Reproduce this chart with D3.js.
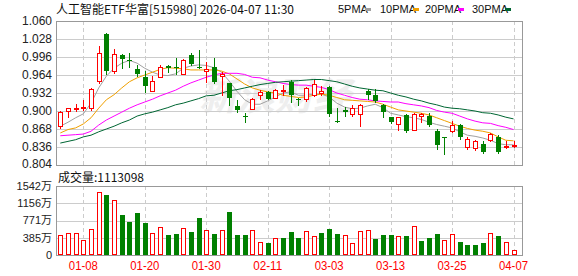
<!DOCTYPE html>
<html>
<head>
<meta charset="utf-8">
<script src="https://d3js.org/d3.v7.min.js"></script>
<style>
  body { margin: 0; padding: 0; background: #fff; }
  svg text { font-family: 'Liberation Sans', Arial, 'Noto Sans CJK SC', sans-serif; }
  .cjk { font-family: 'Noto Sans CJK SC', sans-serif; }
</style>
</head>
<body>
<div id="chart"></div>
<script>
// daily candles, 2026-01-05 .. 2026-04-07
var opens  = [0.874,0.900,0.904,0.906,0.906,0.953,1.037,0.972,1.000,0.991,
              0.975,0.961,0.935,0.960,0.980,0.979,0.966,0.999,0.979,0.971,
              0.979,0.963,0.949,0.909,0.891,0.904,0.928,0.933,0.924,0.935,
              0.952,0.922,0.922,0.929,0.932,0.943,0.882,0.901,0.894,0.894,
              0.935,0.928,0.911,0.889,0.877,0.893,0.867,0.892,0.892,0.865,
              0.853,0.864,0.876,0.836,0.834,0.842,0.848,0.854,0.837,0.838];
var highs  = [0.900,0.905,0.912,0.920,0.941,1.015,1.039,1.010,1.001,1.003,
              0.982,0.972,0.963,0.982,0.982,0.995,0.993,1.004,1.008,0.988,
              0.995,0.970,0.950,0.919,0.897,0.923,0.937,0.935,0.940,0.946,
              0.955,0.924,0.943,0.955,0.944,0.944,0.905,0.908,0.911,0.913,
              0.940,0.939,0.913,0.890,0.890,0.895,0.896,0.896,0.896,0.868,
              0.853,0.883,0.877,0.853,0.849,0.847,0.861,0.857,0.846,0.846];
var lows   = [0.870,0.889,0.900,0.902,0.902,0.949,0.965,0.967,0.976,0.979,
              0.963,0.934,0.935,0.960,0.969,0.966,0.966,0.982,0.976,0.951,
              0.950,0.929,0.910,0.898,0.880,0.903,0.922,0.921,0.923,0.928,
              0.916,0.911,0.917,0.927,0.928,0.892,0.880,0.892,0.891,0.873,
              0.922,0.916,0.889,0.879,0.867,0.863,0.866,0.880,0.874,0.833,
              0.824,0.863,0.851,0.833,0.831,0.826,0.846,0.825,0.835,0.836];
var closes = [0.899,0.905,0.906,0.907,0.940,1.004,0.972,1.001,0.993,0.989,
              0.966,0.944,0.954,0.979,0.977,0.976,0.990,0.984,0.976,0.975,
              0.952,0.965,0.923,0.901,0.889,0.922,0.933,0.922,0.938,0.937,
              0.928,0.920,0.941,0.948,0.935,0.894,0.881,0.899,0.905,0.911,
              0.929,0.917,0.898,0.880,0.889,0.864,0.895,0.894,0.876,0.840,
              0.852,0.876,0.854,0.851,0.846,0.828,0.860,0.828,0.838,0.839];

// moving averages as drawn
var ma5  = [0.873,0.880,0.888,0.895,0.914,0.941,0.962,0.976,0.985,0.990,
            0.985,0.976,0.969,0.964,0.963,0.966,0.976,0.980,0.982,0.981,
            0.977,0.969,0.953,0.935,0.920,0.912,0.912,0.918,0.925,0.932,
            0.934,0.928,0.928,0.930,0.930,0.925,0.914,0.907,0.904,0.905,
            0.909,0.912,0.906,0.896,0.893,0.890,0.888,0.885,0.880,0.876,
            0.873,0.870,0.863,0.857,0.855,0.852,0.848,0.842,0.840,0.840];
var ma10 = [0.861,0.867,0.870,0.877,0.888,0.905,0.920,0.929,0.941,0.952,
            0.959,0.964,0.969,0.974,0.977,0.976,0.975,0.973,0.973,0.973,
            0.973,0.971,0.966,0.957,0.948,0.941,0.937,0.934,0.932,0.928,
            0.926,0.924,0.925,0.928,0.930,0.928,0.924,0.920,0.919,0.918,
            0.917,0.916,0.912,0.907,0.902,0.900,0.898,0.896,0.893,0.888,
            0.883,0.878,0.873,0.869,0.866,0.864,0.861,0.854,0.848,0.847];
var ma20 = [0.856,0.857,0.858,0.859,0.864,0.875,0.884,0.891,0.898,0.905,
            0.911,0.916,0.921,0.927,0.932,0.937,0.944,0.950,0.955,0.960,
            0.964,0.967,0.967,0.967,0.965,0.960,0.959,0.955,0.952,0.949,
            0.947,0.946,0.946,0.944,0.942,0.938,0.932,0.928,0.924,0.921,
            0.920,0.918,0.917,0.916,0.916,0.913,0.911,0.909,0.906,0.901,
            0.898,0.896,0.891,0.886,0.882,0.879,0.878,0.874,0.871,0.867];
var ma30 = [0.843,0.846,0.849,0.854,0.857,0.863,0.868,0.873,0.879,0.884,
            0.891,0.895,0.898,0.902,0.906,0.911,0.914,0.918,0.922,0.927,
            0.928,0.932,0.936,0.938,0.941,0.944,0.947,0.949,0.951,0.952,
            0.953,0.954,0.955,0.956,0.956,0.954,0.952,0.948,0.944,0.941,
            0.939,0.937,0.936,0.932,0.928,0.925,0.921,0.918,0.914,0.911,
            0.907,0.905,0.904,0.902,0.900,0.897,0.896,0.893,0.889,0.886];

// volume in 万, colour by change vs previous close
var volumes = [437,482,482,326,571,1415,1334,1237,889,734,
               934,711,482,615,445,467,593,511,822,548,
               467,548,956,445,445,548,289,267,371,378,
               511,378,526,415,489,578,467,437,267,526,
               548,356,445,445,415,422,659,311,378,467,
               326,467,289,215,215,267,482,422,289,111];
var volUp = "RRRRRRGRGGGGRRGGRGGRGRGGGRRGRGGGRRGGGRRRRGGGRGRGGGRRGGGGRGRR".split("");

var priceTicks = [1.060,1.028,0.996,0.964,0.932,0.900,0.868,0.836,0.804];
var volTicks = [0,385,771,1156,1542];
var dateLabels = ["01-08","01-20","01-30","02-11","03-03","03-13","03-25","04-07"];
var dateIdx = [3,11,19,27,35,43,51,59];

var maNames = ["5PMA","10PMA","20PMA","30PMA"];
var maColors = ["#a0a0a0","#f0a000","#ff00ff","#006633"];

var W = 578, H = 276;
var L = 56, R = 522;
var svg = d3.select("#chart").append("svg").attr("width", W).attr("height", H);

var x = d3.scaleLinear().domain([0, 59]).range([60.3, 513.5]);
var y = d3.scaleLinear().domain([0.804, 1.060]).range([165, 21]);
var yv = d3.scaleLinear().domain([0, 1542]).range([255, 186]);

var red = "#ff0000", green = "#008000";

// watermark
svg.append("text").attr("class", "cjk")
  .attr("x", 275).attr("y", 110).attr("text-anchor", "middle")
  .style("font-size", "38px").style("font-weight", "bold").style("font-style", "italic")
  .attr("fill", "#eeeeee").text("新浪财经");

// gridlines
var grid = svg.append("g").attr("shape-rendering", "crispEdges");
grid.selectAll(".hp").data(priceTicks.slice(1, -1)).enter().append("line")
  .attr("x1", L).attr("x2", R)
  .attr("y1", function(d){ return Math.round(y(d)) + 0.5; })
  .attr("y2", function(d){ return Math.round(y(d)) + 0.5; })
  .attr("stroke", "#cccccc");
grid.selectAll(".hv").data(volTicks.slice(1, -1)).enter().append("line")
  .attr("x1", L).attr("x2", R)
  .attr("y1", function(d){ return Math.round(yv(d)) + 0.5; })
  .attr("y2", function(d){ return Math.round(yv(d)) + 0.5; })
  .attr("stroke", "#cccccc");
[[21, 165], [186, 255]].forEach(function(r){
  grid.selectAll(null).data(dateIdx).enter().append("line")
    .attr("x1", function(d){ return Math.round(x(d)) + 0.5; })
    .attr("x2", function(d){ return Math.round(x(d)) + 0.5; })
    .attr("y1", r[0]).attr("y2", r[1])
    .attr("stroke", "#cccccc").attr("stroke-dasharray", "4,3");
});

// moving averages
var mas = [ma5, ma10, ma20, ma30];
var line = d3.line().x(function(d, i){ return x(i); }).y(function(d){ return y(d); });
mas.forEach(function(m, k){
  svg.append("path").datum(m).attr("d", line)
    .attr("fill", "none").attr("stroke", maColors[k]).attr("stroke-width", 1);
});

// candles
var idx = d3.range(opens.length);
var cg = svg.append("g").attr("shape-rendering", "crispEdges");
var candle = cg.selectAll(".c").data(idx).enter().append("g");
candle.append("line")
  .attr("x1", function(i){ return Math.round(x(i)) + 0.5; })
  .attr("x2", function(i){ return Math.round(x(i)) + 0.5; })
  .attr("y1", function(i){ return Math.round(y(highs[i])); })
  .attr("y2", function(i){ return Math.round(y(lows[i])) + 1; })
  .attr("stroke", function(i){ return closes[i] >= opens[i] ? red : green; });
candle.append("rect")
  .attr("x", function(i){ var c = Math.round(x(i)); return closes[i] >= opens[i] ? c - 1.5 : c - 2; })
  .attr("y", function(i){
    var t = Math.round(y(Math.max(opens[i], closes[i])));
    return closes[i] >= opens[i] ? t + 0.5 : t;
  })
  .attr("width", function(i){ return closes[i] >= opens[i] ? 4 : 5; })
  .attr("height", function(i){
    var t = Math.round(y(Math.max(opens[i], closes[i])));
    var b = Math.round(y(Math.min(opens[i], closes[i])));
    return Math.max(1, b - t);
  })
  .attr("fill", function(i){ return closes[i] >= opens[i] ? "#ffffff" : green; })
  .attr("stroke", function(i){ return closes[i] >= opens[i] ? red : "none"; });

// volume bars
var vg = svg.append("g").attr("shape-rendering", "crispEdges");
vg.selectAll(".v").data(idx).enter().append("rect")
  .attr("x", function(i){ var c = Math.round(x(i)); return volUp[i] === "R" ? c - 1.5 : c - 2; })
  .attr("y", function(i){ return Math.round(yv(volumes[i])) + (volUp[i] === "R" ? 0.5 : 0); })
  .attr("width", function(i){ return volUp[i] === "R" ? 4 : 5; })
  .attr("height", function(i){ return Math.round(yv(0)) - Math.round(yv(volumes[i])) - (volUp[i] === "R" ? 1 : 0); })
  .attr("fill", function(i){ return volUp[i] === "R" ? "#ffffff" : green; })
  .attr("stroke", function(i){ return volUp[i] === "R" ? red : "none"; });

// frames
[[21, 165], [186, 255]].forEach(function(r){
  svg.append("rect").attr("x", L + 0.5).attr("y", r[0] + 0.5)
    .attr("width", R - L).attr("height", r[1] - r[0])
    .attr("fill", "none").attr("stroke", "#999999").attr("shape-rendering", "crispEdges");
});

// price axis labels
svg.selectAll(".pl").data(priceTicks).enter().append("text")
  .attr("x", 52).attr("y", function(d, i){ return i === priceTicks.length - 1 ? y(d) - 1 : y(d); })
  .attr("dy", "0.35em").attr("text-anchor", "end")
  .style("font-size", "12px").attr("fill", "#222")
  .text(function(d){ return d3.format(".3f")(d); });

// volume axis labels
svg.selectAll(".vl").data(volTicks).enter().append("text")
  .attr("x", 52).attr("y", function(d){ return d === 0 ? yv(d) : yv(d); })
  .attr("dy", "0.35em").attr("text-anchor", "end")
  .style("font-size", "11px").attr("fill", "#222")
  .text(function(d){ return d === 0 ? "0" : d + "万"; });

// date labels
svg.selectAll(".dl").data(dateIdx).enter().append("text")
  .attr("x", function(d){ return x(d); }).attr("y", 270)
  .attr("text-anchor", "middle").style("font-size", "12px")
  .attr("fill", red).attr("textLength", 29).attr("lengthAdjust", "spacingAndGlyphs")
  .text(function(d, i){ return dateLabels[i]; });

// title
svg.append("text").attr("class", "cjk").attr("x", 56).attr("y", 14)
  .style("font-size", "12px").attr("fill", "#111")
  .attr("textLength", 238).attr("lengthAdjust", "spacingAndGlyphs")
  .text("人工智能ETF华富[515980] 2026-04-07 11:30");

// legend
var legX = [338, 380, 425, 472];
var leg = svg.selectAll(".lg").data(maNames).enter().append("g");
leg.append("text").attr("x", function(d, i){ return legX[i]; }).attr("y", 13)
  .style("font-size", "11px").attr("fill", "#111")
  .text(function(d){ return d; });
leg.append("rect")
  .attr("x", function(d, i){ return legX[i] + (i === 0 ? 27 : 33); }).attr("y", 8)
  .attr("width", 6).attr("height", 3)
  .attr("fill", function(d, i){ return maColors[i]; });

// volume caption
svg.append("text").attr("class", "cjk").attr("x", 58).attr("y", 182)
  .style("font-size", "12px").attr("fill", "#111")
  .text("成交量:" + "1113098");
</script>
</body>
</html>
